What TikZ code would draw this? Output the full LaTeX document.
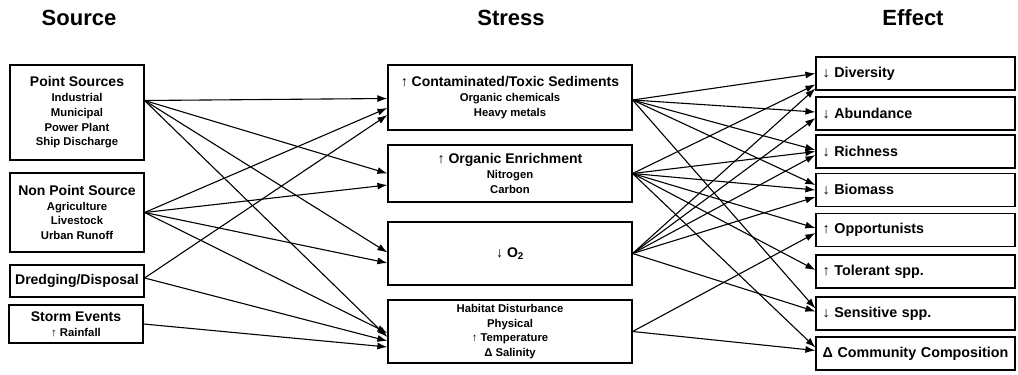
\documentclass[tikz,border=0pt]{standalone}
\usepackage{fontspec}
\setmainfont{Liberation Sans}
\usetikzlibrary{arrows.meta}
\newcommand{\ttl}[1]{{\fontsize{14}{15}\selectfont #1}}
\tikzset{
  boxline/.style={draw, line width=1.2pt, inner sep=0pt, align=center,
    font=\bfseries\fontsize{11.3}{14.8}\selectfont},
  srcbox/.style={boxline, minimum width=134pt},
  stressbox/.style={boxline, minimum width=244pt},
  effbox/.style={boxline, minimum width=199pt, minimum height=33pt,
    text width=186pt, align=left, font=\bfseries\fontsize{14.3}{16}\selectfont},
  headtxt/.style={font=\bfseries\fontsize{22}{24}\selectfont},
  conn/.style={line width=1.1pt, -{Latex[length=10pt,width=7pt]}}
}
\begin{document}
\begin{tikzpicture}[x=1pt,y=-1pt]
    \useasboundingbox (0,0) rectangle (1018,375);
    % column headers
    \node[headtxt] (hsrc) at (79,18) {Source};
    \node[headtxt] (hstress) at (511,18) {Stress};
    \node[headtxt] (heff) at (913,18) {Effect};
    % sources
    \node[srcbox, minimum height=95pt] (point) at (77,112.5)
        {\ttl{Point Sources}\\Industrial\\Municipal\\Power Plant\\Ship Discharge};
    \node[srcbox, minimum height=79pt] (nonpoint) at (77,212.5)
        {\ttl{Non Point Source}\\Agriculture\\Livestock\\Urban Runoff};
    \node[srcbox, minimum height=32pt] (dredge) at (77,281)
        {\ttl{Dredging/Disposal}};
    \node[srcbox, minimum height=38pt] (storm) at (76,324)
        {\ttl{Storm Events}\\↑ Rainfall};
    % stresses
    \node[stressbox, minimum height=65pt] (contam) at (510,97.5)
        {\ttl{↑ Contaminated/Toxic Sediments}\\Organic chemicals\\Heavy metals};
    \node[stressbox, minimum height=57pt] (organic) at (510,173.5)
        {\ttl{↑ Organic Enrichment}\\Nitrogen\\Carbon};
    \node[stressbox, minimum height=63pt] (oxygen) at (510,253.5)
        {\ttl{↓ O\textsubscript{2}}};
    \node[stressbox, minimum height=63pt] (habitat) at (510,331.5)
        {Habitat Disturbance\\Physical\\↑ Temperature\\Δ Salinity};
    % effects
    \node[effbox] (diversity) at (915.5,73.5) {↓ Diversity};
    \node[effbox] (abundance) at (915.5,113.5) {↓ Abundance};
    \node[effbox] (richness) at (915.5,151.5) {↓ Richness};
    \node[effbox] (biomass) at (915.5,190) {↓ Biomass};
    \node[effbox] (opport) at (915.5,230) {↑ Opportunists};
    \node[effbox] (tolerant) at (915.5,271.5) {↑ Tolerant spp.};
    \node[effbox] (sensitive) at (915.5,313.5) {↓ Sensitive spp.};
    \node[effbox] (community) at (915.5,353.5) {Δ Community Composition};
    % source -> stress
    \draw[conn] ([yshift=12pt]point.east) -- ([yshift=-1pt]contam.west);
    \draw[conn] ([yshift=12pt]point.east) -- (organic.west);
    \draw[conn] ([yshift=12pt]point.east) -- ([yshift=1pt]oxygen.west);
    \draw[conn] ([yshift=12pt]point.east) -- ([yshift=-5.5pt]habitat.west);
    \draw[conn] (nonpoint.east) -- ([yshift=-10.5pt]contam.west);
    \draw[conn] (nonpoint.east) -- ([yshift=-11.5pt]organic.west);
    \draw[conn] (nonpoint.east) -- ([yshift=-9.5pt]oxygen.west);
    \draw[conn] (nonpoint.east) -- ([yshift=-1.5pt]habitat.west);
    \draw[conn] ([yshift=3pt]dredge.east) -- ([yshift=-17.5pt]contam.west);
    \draw[conn] ([yshift=3pt]dredge.east) -- ([yshift=-9.5pt]habitat.west);
    \draw[conn] (storm.east) -- ([yshift=-15.5pt]habitat.west);
    % stress -> effect
    \draw[conn] ([yshift=-2.5pt]contam.east) -- (diversity.west);
    \draw[conn] ([yshift=-2.5pt]contam.east) -- ([yshift=1.5pt]abundance.west);
    \draw[conn] ([yshift=-2.5pt]contam.east) -- ([yshift=1.5pt]richness.west);
    \draw[conn] ([yshift=-2.5pt]contam.east) -- ([yshift=5pt]biomass.west);
    \draw[conn] ([yshift=-2.5pt]contam.east) -- ([yshift=5pt]sensitive.west);
    \draw[conn] (organic.east) -- ([yshift=-11pt]diversity.west);
    \draw[conn] (organic.east) -- (richness.west);
    \draw[conn] (organic.east) -- (biomass.west);
    \draw[conn] (organic.east) -- ([yshift=2pt]opport.west);
    \draw[conn] (organic.east) -- ([yshift=1.5pt]tolerant.west);
    \draw[conn] (organic.east) -- ([yshift=6pt]community.west);
    \draw[conn] (oxygen.east) -- ([yshift=-15pt]diversity.west);
    \draw[conn] (oxygen.east) -- ([yshift=-4.5pt]abundance.west);
    \draw[conn] (oxygen.east) -- ([yshift=-3.5pt]richness.west);
    \draw[conn] (oxygen.east) -- ([yshift=-7pt]biomass.west);
    \draw[conn] (oxygen.east) -- ([yshift=2pt]sensitive.west);
    \draw[conn] (habitat.east) -- ([yshift=-3pt]opport.west);
    \draw[conn] (habitat.east) -- ([yshift=3pt]community.west);
\end{tikzpicture}
\end{document}
